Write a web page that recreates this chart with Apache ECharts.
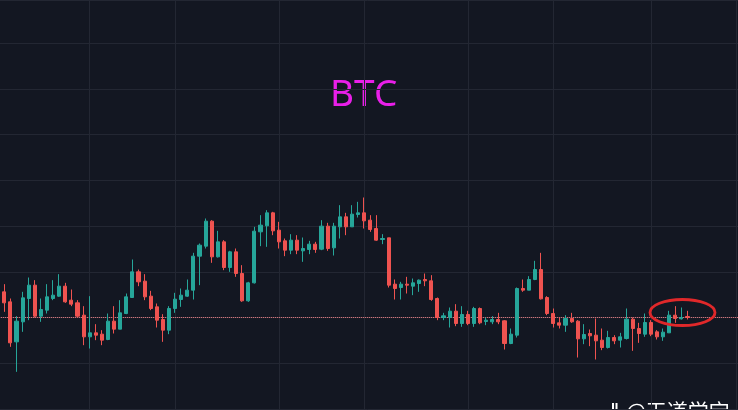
<!DOCTYPE html>
<html><head><meta charset="utf-8">
<script src="https://cdn.jsdelivr.net/npm/echarts@6/dist/echarts.min.js"></script>
<style>html,body{margin:0;padding:0;background:#131722;overflow:hidden;width:738px;height:410px;position:relative}#c{position:absolute;left:-5px;top:0;width:748px;height:410px;}</style>
</head><body><div id="c"></div>
<script>
// ---- data ----
const titleText = 'BTC';
const watermarkText = '@天道学宝';
// 122 half-hour slots (last 8 are empty future slots on the right)
const categories = [];
(function(){ const t0 = Date.UTC(2023,8,20,0,0); for(let i=0;i<122;i++){ const d=new Date(t0+i*1800000); categories.push(d.toISOString().slice(5,16).replace('T',' ')); } })();
const opens = [26454,26429,26399,26279,26339,26409,26449,26356,26374,26409,
26416,26446,26404,26396,26359,26294,26306,26302,26286,26341,
26317,26364,26412,26489,26461,26416,26384,26346,26314,26379,
26406,26416,26434,26536,26566,26641,26534,26579,26502,26549,
26484,26402,26456,26609,26627,26666,26614,26582,26554,26584,
26552,26556,26572,26557,26626,26561,26624,26654,26624,26661,
26666,26644,26619,26586,26591,26452,26442,26452,26446,26454,
26466,26462,26409,26352,26352,26371,26334,26361,26334,26379,
26340,26339,26346,26342,26274,26299,26439,26434,26466,26496,
26412,26364,26336,26329,26349,26341,26288,26304,26299,26284,
26262,26292,26284,26289,26347,26319,26302,26337,26309,26294,
26306,26359,26348,26355];
const closes = [26429,26396,26276,26341,26411,26449,26356,26376,26414,26419,
26446,26399,26392,26356,26294,26306,26299,26284,26341,26317,
26366,26414,26489,26459,26414,26379,26344,26314,26379,26407,
26419,26434,26536,26569,26641,26534,26579,26502,26549,26484,
26402,26456,26611,26629,26666,26612,26579,26554,26584,26554,
26559,26572,26556,26626,26559,26626,26654,26624,26662,26666,
26642,26616,26584,26589,26449,26439,26452,26449,26456,26464,
26462,26406,26352,26357,26371,26334,26361,26334,26379,26336,
26344,26346,26339,26274,26302,26439,26434,26466,26496,26408,
26364,26334,26329,26349,26339,26288,26301,26297,26282,26262,
26292,26282,26294,26347,26319,26304,26337,26302,26294,26308,
26359,26349,26352,26352];
const lows = [26419,26369,26264,26189,26309,26344,26352,26339,26364,26404,
26414,26396,26386,26352,26269,26259,26284,26269,26284,26304,
26317,26362,26412,26446,26404,26374,26322,26279,26302,26366,
26384,26414,26406,26449,26559,26516,26532,26494,26489,26474,
26399,26399,26454,26566,26564,26599,26559,26536,26542,26542,
26519,26542,26546,26554,26552,26538,26589,26599,26624,26652,
26619,26609,26582,26572,26442,26406,26406,26424,26419,26429,
26446,26402,26344,26344,26322,26326,26324,26329,26324,26332,
26329,26332,26332,26256,26272,26292,26429,26434,26464,26406,
26359,26322,26319,26309,26336,26232,26272,26266,26226,26254,
26259,26272,26262,26286,26252,26276,26294,26296,26286,26282,
26306,26336,26346,26346];
const highs = [26464,26452,26409,26356,26429,26472,26464,26409,26452,26464,
26482,26456,26436,26404,26386,26416,26332,26314,26364,26386,
26404,26424,26526,26496,26482,26432,26394,26362,26386,26426,
26439,26466,26546,26574,26649,26644,26612,26584,26552,26559,
26509,26459,26624,26659,26674,26669,26639,26589,26602,26599,
26592,26582,26579,26644,26636,26636,26689,26666,26689,26699,
26712,26659,26659,26602,26591,26466,26459,26474,26469,26466,
26484,26479,26412,26366,26382,26392,26386,26372,26384,26382,
26352,26356,26366,26344,26319,26442,26466,26476,26522,26546,
26416,26379,26352,26359,26366,26344,26332,26316,26349,26319,
26312,26299,26306,26379,26352,26336,26364,26344,26314,26319,
26372,26386,26382,26372];
// category slots where the vertical time grid lines fall
const timeGridSlots = [15,29,46,60,77,91,107,121];

// ---- chart ----
const chart = echarts.init(document.getElementById('c'), null, {renderer:'canvas'});
const ohlc = opens.map((o,i)=>[o, closes[i], lows[i], highs[i]]);
const lastClose = closes[closes.length-1];
const UP='#26a69a', DOWN='#ef5350', GRID='#232733';
const OX = 5; // the canvas starts 5px left of the page
chart.setOption({
  backgroundColor:'#131722',
  animation:false,
  grid:{left:0.18, width:744.2, top:0, height:409},
  xAxis:{type:'category', data:categories, boundaryGap:true,
    axisLine:{show:false}, axisTick:{show:false}, axisLabel:{show:false}, splitLine:{show:false}},
  yAxis:{type:'value', min:26077.5, max:27304.5, interval:137.25,
    axisLine:{show:false}, axisTick:{show:false}, axisLabel:{show:false},
    splitLine:{show:true, lineStyle:{color:GRID, width:1}}},
  series:[
    {type:'line', data:[], z:1, silent:true,
      markLine:{silent:true, symbol:['none','none'], label:{show:false}, animation:false,
        lineStyle:{color:GRID, type:'solid', width:1},
        data: timeGridSlots.map(i=>({xAxis: categories[i]}))}},
    {type:'candlestick', data:ohlc, z:5, barWidth:3.6,
      itemStyle:{color:UP, color0:DOWN, borderColor:UP, borderColor0:DOWN, borderWidth:1},
      markLine:{silent:true, symbol:['none','none'], label:{show:false}, animation:false,
        lineStyle:{color:'#f58489', type:'dotted', width:1},
        data:[{yAxis:lastClose}]}}
  ],
  graphic:[
    {type:'text', left:330+OX, top:77, style:{text:titleText, fill:'#e91fe9', font:'37px "Noto Sans"'}},
    {type:'ellipse', shape:{cx:682.5+OX, cy:312.5, rx:32.5, ry:13}, style:{fill:'none', stroke:'#e0282a', lineWidth:2.8}, z:100},
    {type:'rect', shape:{x:612+OX, y:403, width:2, height:8}, style:{fill:'#ffffff'}},
    {type:'rect', shape:{x:615.5+OX, y:403, width:2, height:8}, style:{fill:'#ffffff'}},
    {type:'text', left:626+OX, top:401, style:{text:watermarkText, fill:'#ffffff', font:'21px "Noto Sans CJK SC"'}}
  ]
});
</script></body></html>
